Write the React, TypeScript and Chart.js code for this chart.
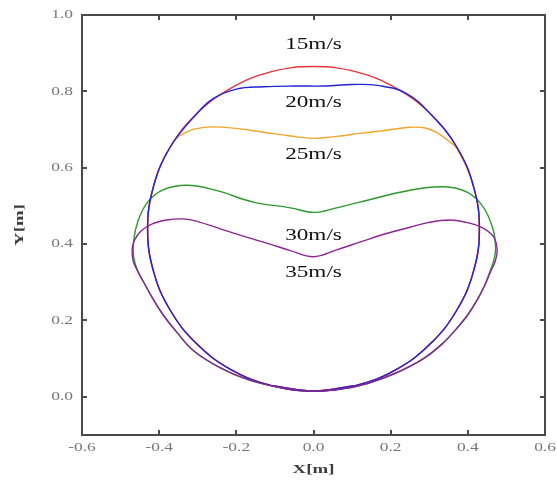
import { useEffect, useRef } from "react";
import { Chart, registerables } from "chart.js";

Chart.register(...registerables);

// Axis ranges and ticks
const xMin = -0.6;
const xMax = 0.6;
const yMin = -0.1;
const yMax = 1.0;
const xTicks = [-0.6, -0.4, -0.2, 0, 0.2, 0.4, 0.6];
const xTickLabels = ["-0.6", "-0.4", "-0.2", "0.0", "0.2", "0.4", "0.6"];
const yTicks = [0, 0.2, 0.4, 0.6, 0.8, 1.0];
const yTickLabels = ["0.0", "0.2", "0.4", "0.6", "0.8", "1.0"];

// Wind speeds, colours, and where each speed label sits (x, y in metres)
const speeds = ["15m/s", "20m/s", "25m/s", "30m/s", "35m/s"];
const colors = ["#e8323c", "#2424d4", "#f2a42a", "#2c9a2c", "#8c2496"];
const labelX = [0, 0, 0, 0, 0];
const labelY = [0.923, 0.771, 0.633, 0.421, 0.324];

// Cross-section outlines, traced counter-clockwise from the bottom point
const outline15X = [0, 0.111, 0.215, 0.304, 0.372, 0.415, 0.43, 0.415, 0.372, 0.304, 0.215, 0.111, 0, -0.111, -0.215, -0.304, -0.372, -0.415, -0.43, -0.415, -0.372, -0.304, -0.215, -0.111, 0];
const outline15Y = [0.015, 0.03, 0.072, 0.14, 0.228, 0.33, 0.44, 0.55, 0.653, 0.74, 0.808, 0.851, 0.865, 0.851, 0.808, 0.74, 0.653, 0.55, 0.44, 0.33, 0.228, 0.14, 0.072, 0.03, 0.015];

const outline20X = [0, 0.111, 0.215, 0.304, 0.372, 0.415, 0.43, 0.415, 0.372, 0.304, 0.24, 0.17, 0.1, 0.03, -0.05, -0.13, -0.2, -0.26, -0.304, -0.372, -0.415, -0.43, -0.415, -0.372, -0.304, -0.215, -0.111, 0];
const outline20Y = [0.015, 0.03, 0.072, 0.14, 0.228, 0.33, 0.44, 0.55, 0.653, 0.74, 0.795, 0.815, 0.818, 0.814, 0.814, 0.812, 0.806, 0.781, 0.74, 0.653, 0.55, 0.44, 0.33, 0.228, 0.14, 0.072, 0.03, 0.015];

const outline25X = [0, 0.111, 0.215, 0.304, 0.372, 0.415, 0.43, 0.415, 0.372, 0.35, 0.32, 0.29, 0.25, 0.18, 0.12, 0.06, 0, -0.06, -0.13, -0.2, -0.268, -0.31, -0.335, -0.356, -0.39, -0.415, -0.43, -0.415, -0.372, -0.304, -0.215, -0.111, 0];
const outline25Y = [0.015, 0.03, 0.072, 0.14, 0.228, 0.33, 0.44, 0.55, 0.65, 0.67, 0.692, 0.704, 0.706, 0.697, 0.69, 0.682, 0.677, 0.683, 0.693, 0.703, 0.707, 0.701, 0.69, 0.677, 0.62, 0.55, 0.44, 0.33, 0.228, 0.14, 0.072, 0.03, 0.015];

const outline30X = [0, 0.07, 0.14, 0.215, 0.285, 0.336, 0.372, 0.4, 0.425, 0.445, 0.458, 0.468, 0.472, 0.465, 0.44, 0.398, 0.336, 0.25, 0.12, 0.06, 0, -0.06, -0.156, -0.25, -0.328, -0.39, -0.43, -0.455, -0.466, -0.466, -0.456, -0.44, -0.418, -0.39, -0.355, -0.31, -0.24, -0.17, -0.1, -0.03, 0];
const outline30Y = [0.015, 0.02, 0.035, 0.063, 0.1, 0.141, 0.18, 0.215, 0.255, 0.295, 0.33, 0.36, 0.39, 0.44, 0.497, 0.536, 0.55, 0.541, 0.51, 0.495, 0.483, 0.495, 0.51, 0.54, 0.554, 0.542, 0.51, 0.46, 0.41, 0.365, 0.33, 0.3, 0.26, 0.215, 0.17, 0.12, 0.075, 0.045, 0.027, 0.017, 0.015];

const outline35X = [0, 0.07, 0.14, 0.215, 0.285, 0.336, 0.372, 0.4, 0.425, 0.445, 0.46, 0.471, 0.476, 0.466, 0.436, 0.395, 0.354, 0.3, 0.25, 0.18, 0.12, 0.06, 0, -0.06, -0.113, -0.18, -0.242, -0.3, -0.338, -0.38, -0.418, -0.447, -0.464, -0.47, -0.467, -0.456, -0.44, -0.418, -0.39, -0.355, -0.31, -0.24, -0.17, -0.1, -0.03, 0];
const outline35Y = [0.015, 0.02, 0.035, 0.063, 0.1, 0.141, 0.18, 0.215, 0.255, 0.295, 0.33, 0.355, 0.386, 0.42, 0.444, 0.457, 0.463, 0.457, 0.444, 0.425, 0.405, 0.385, 0.367, 0.383, 0.4, 0.42, 0.44, 0.459, 0.466, 0.463, 0.453, 0.434, 0.41, 0.386, 0.355, 0.33, 0.3, 0.26, 0.215, 0.17, 0.12, 0.075, 0.045, 0.027, 0.017, 0.015];

const outlinesX = [outline15X, outline20X, outline25X, outline30X, outline35X];
const outlinesY = [outline15Y, outline20Y, outline25Y, outline30Y, outline35Y];
// Stacking: purple on top, orange at the bottom
const drawOrder = [3, 1, 4, 2, 0];

const FRAME = "#4a4a4a";
const TICK_TEXT = "#777777";
const SERIF = "'Liberation Serif', 'Times New Roman', serif";
const STRETCH = 1.45;

// Closed loop: wrap one point on each end so the spline joins smoothly
function closedLoop(xs: number[], ys: number[]) {
  const pts = xs.map((x, i) => ({ x, y: ys[i] }));
  const n = pts.length;
  return [pts[n - 2], ...pts, pts[1]];
}

function wideText(
  ctx: CanvasRenderingContext2D,
  text: string,
  x: number,
  y: number,
  align: CanvasTextAlign,
  rotate = 0
) {
  ctx.save();
  ctx.translate(x, y);
  if (rotate) ctx.rotate(rotate);
  ctx.scale(STRETCH, 1);
  ctx.textAlign = align;
  ctx.textBaseline = "middle";
  ctx.fillText(text, 0, 0);
  ctx.restore();
}

const framePlugin = {
  id: "frameTicksLabels",
  afterDraw(chart: any) {
    const { ctx, chartArea } = chart;
    const xs = chart.scales.x;
    const ys = chart.scales.y;
    const { left, right, top, bottom } = chartArea;
    const tickLen = 5;

    ctx.save();
    ctx.strokeStyle = FRAME;
    ctx.lineWidth = 2;
    ctx.beginPath();
    xTicks.forEach((v) => {
      const px = Math.round(xs.getPixelForValue(v));
      ctx.moveTo(px, bottom);
      ctx.lineTo(px, bottom - tickLen);
      ctx.moveTo(px, top);
      ctx.lineTo(px, top + tickLen);
    });
    yTicks.forEach((v) => {
      const py = Math.round(ys.getPixelForValue(v));
      ctx.moveTo(left, py);
      ctx.lineTo(left + tickLen, py);
      ctx.moveTo(right, py);
      ctx.lineTo(right - tickLen, py);
    });
    ctx.stroke();

    // tick labels
    ctx.fillStyle = TICK_TEXT;
    ctx.font = `12px ${SERIF}`;
    xTicks.forEach((v, i) => {
      wideText(ctx, xTickLabels[i], xs.getPixelForValue(v), bottom + 13, "center");
    });
    yTicks.forEach((v, i) => {
      wideText(ctx, yTickLabels[i], left - 9, ys.getPixelForValue(v), "right");
    });

    // axis titles
    ctx.fillStyle = "#3c3c3c";
    ctx.font = `bold 13px ${SERIF}`;
    wideText(ctx, "X[m]", (left + right) / 2, bottom + 35, "center");
    wideText(ctx, "Y[m]", 20, (top + bottom) / 2, "center", -Math.PI / 2);

    // speed labels
    ctx.fillStyle = "#111111";
    ctx.font = `16px ${SERIF}`;
    speeds.forEach((s, i) => {
      wideText(ctx, s, xs.getPixelForValue(labelX[i]), ys.getPixelForValue(labelY[i]), "center");
    });
    ctx.restore();
  },
};

const hiddenAxis = (position: string, min: number, max: number, size: number, horizontal: boolean) => ({
  type: "linear",
  position,
  min,
  max,
  ticks: { display: false },
  grid: { display: false, drawTicks: false },
  border: { display: true, color: FRAME, width: 2 },
  afterFit: (scale: any) => {
    if (horizontal) scale.height = size;
    else scale.width = size;
  },
});

export default function App() {
  const canvasRef = useRef<HTMLCanvasElement | null>(null);

  useEffect(() => {
    if (!canvasRef.current) return;
    const chart = new Chart(canvasRef.current, {
      type: "scatter",
      data: {
        datasets: speeds.map((s, i) => ({
          label: s,
          data: closedLoop(outlinesX[i], outlinesY[i]),
          showLine: true,
          borderColor: colors[i],
          backgroundColor: colors[i],
          borderWidth: 1.4,
          pointRadius: 0,
          pointHoverRadius: 0,
          tension: 0.4,
          fill: false,
          order: drawOrder[i],
        })),
      },
      options: {
        animation: false,
        responsive: false,
        maintainAspectRatio: false,
        layout: { padding: 0 },
        plugins: {
          legend: { display: false },
          tooltip: { enabled: false },
        },
        scales: {
          x: hiddenAxis("bottom", xMin, xMax, 51, true),
          xTop: hiddenAxis("top", xMin, xMax, 15, true),
          y: hiddenAxis("left", yMin, yMax, 82, false),
          yRight: hiddenAxis("right", yMin, yMax, 12, false),
        } as any,
      },
      plugins: [framePlugin],
    } as any);
    return () => chart.destroy();
  }, []);

  return (
    <div style={{ position: "fixed", left: 0, top: 0, width: 557, height: 486, background: "#ffffff" }}>
      <canvas ref={canvasRef} width={557} height={486} style={{ display: "block" }} />
    </div>
  );
}
